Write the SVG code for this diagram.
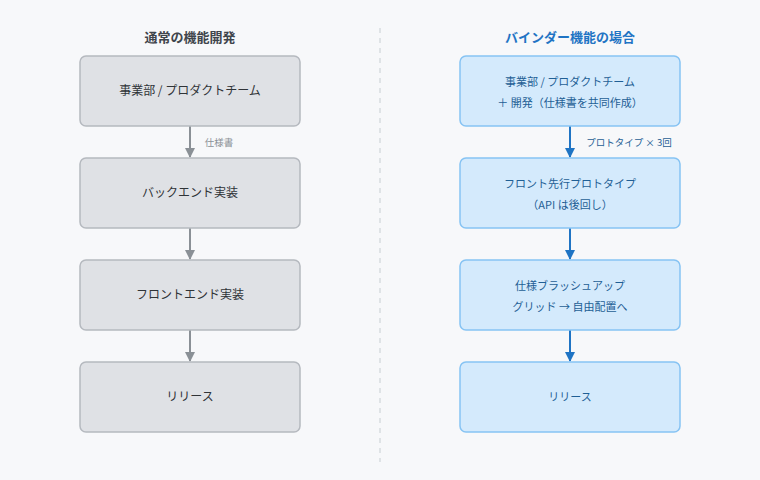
<svg xmlns="http://www.w3.org/2000/svg" width="760" height="480" viewBox="0 0 760 480">
<style>
text{font-family:"Noto Sans CJK JP","Noto Sans",sans-serif;text-anchor:middle}
.g rect{fill:#dfe1e5;stroke:#b5b9bf;stroke-width:1.5}
.b rect{fill:#d4eafc;stroke:#86c3f3;stroke-width:1.5}
.g text{font-size:12px;fill:#2f3337}
.b text{font-size:11px;fill:#1f5f95}
.t{font-size:13px;font-weight:bold}
.l{font-size:9.5px}
</style>
<defs>
<marker id="ag" viewBox="0 0 10 10" refX="9" refY="5" markerWidth="5" markerHeight="5" orient="auto"><path d="M0 0L10 5L0 10z" fill="#8a9096"/></marker>
<marker id="ab" viewBox="0 0 10 10" refX="9" refY="5" markerWidth="5" markerHeight="5" orient="auto"><path d="M0 0L10 5L0 10z" fill="#1f74c4"/></marker>
</defs>
<rect width="760" height="480" fill="#f7f8fa"/>
<line x1="380" y1="28" x2="380" y2="462" stroke="#d8dbe0" stroke-width="1.5" stroke-dasharray="5 5"/>
<text class="t" x="190" y="42" fill="#3f454c">通常の機能開発</text>
<text class="t" x="570" y="42" fill="#1f74c4">バインダー機能の場合</text>
<g id="connectors">
<line x1="190" y1="126" x2="190" y2="157" stroke="#8a9096" stroke-width="2" marker-end="url(#ag)"/>
<line x1="190" y1="228" x2="190" y2="259" stroke="#8a9096" stroke-width="2" marker-end="url(#ag)"/>
<line x1="190" y1="330" x2="190" y2="361" stroke="#8a9096" stroke-width="2" marker-end="url(#ag)"/>
<line x1="570" y1="126" x2="570" y2="157" stroke="#1f74c4" stroke-width="2" marker-end="url(#ab)"/>
<line x1="570" y1="228" x2="570" y2="259" stroke="#1f74c4" stroke-width="2" marker-end="url(#ab)"/>
<line x1="570" y1="330" x2="570" y2="361" stroke="#1f74c4" stroke-width="2" marker-end="url(#ab)"/>
<text class="l" x="219" y="146" fill="#8a9096">仕様書</text>
<text class="l" x="629" y="146" fill="#1f5f95">プロトタイプ × 3回</text>
</g>
<g id="g1" class="g"><rect x="80" y="56" width="220" height="70" rx="6"/><text x="190" y="95">事業部 / プロダクトチーム</text></g>
<g id="g2" class="g"><rect x="80" y="158" width="220" height="70" rx="6"/><text x="190" y="197">バックエンド実装</text></g>
<g id="g3" class="g"><rect x="80" y="260" width="220" height="70" rx="6"/><text x="190" y="299">フロントエンド実装</text></g>
<g id="g4" class="g"><rect x="80" y="362" width="220" height="70" rx="6"/><text x="190" y="401">リリース</text></g>
<g id="b1" class="b"><rect x="460" y="56" width="220" height="70" rx="6"/><text x="570" y="86">事業部 / プロダクトチーム</text><text x="570" y="107">＋ 開発（仕様書を共同作成）</text></g>
<g id="b2" class="b"><rect x="460" y="158" width="220" height="70" rx="6"/><text x="570" y="188">フロント先行プロトタイプ</text><text x="570" y="209">（API は後回し）</text></g>
<g id="b3" class="b"><rect x="460" y="260" width="220" height="70" rx="6"/><text x="570" y="290">仕様ブラッシュアップ</text><text x="570" y="311">グリッド → 自由配置へ</text></g>
<g id="b4" class="b"><rect x="460" y="362" width="220" height="70" rx="6"/><text x="570" y="401">リリース</text></g>
</svg>
